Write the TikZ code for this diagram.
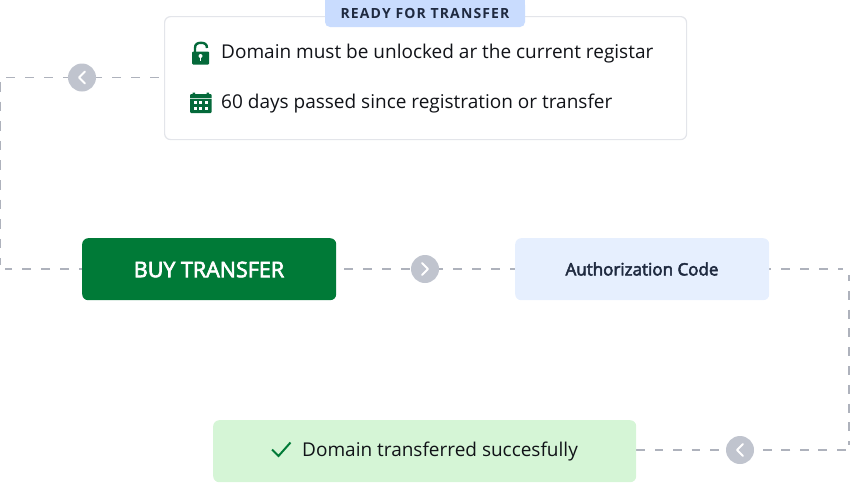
\documentclass[tikz,border=0pt]{standalone}
\usepackage{fontspec}
\usetikzlibrary{backgrounds}
\setmainfont{Open Sans}
\newfontfamily\semib[FakeBold=3]{Open Sans}
\definecolor{dgreen}{HTML}{007A37}
\definecolor{icong}{HTML}{04693A}
\definecolor{lblue}{HTML}{E6EFFE}
\definecolor{tagblue}{HTML}{C9DCFE}
\definecolor{lgreen}{HTML}{D5F5D6}
\definecolor{cardline}{HTML}{E3E5EA}
\definecolor{dashc}{HTML}{AEB2BC}
\definecolor{circ}{HTML}{C0C4CE}
\definecolor{inkc}{HTML}{111318}
\definecolor{navy}{HTML}{1F2A40}
\tikzset{
  flow/.style={draw=dashc,line width=1.2pt,dash pattern=on 9pt off 10pt},
  badge/.style={circle,fill=circ,minimum size=28pt,inner sep=0pt},
  chev/.style={draw=white,line width=2pt,line cap=round,line join=round},
  txt/.style={anchor=base west,inner sep=0pt,text=inkc,font=\fontsize{19}{22}\selectfont},
  box/.style={rounded corners=6pt,inner sep=0pt,anchor=north west}
}
\begin{document}
\begin{tikzpicture}[x=1pt,y=-1pt]
\useasboundingbox (0,0) rectangle (850,482);
% cards
\node[box,draw=cardline,line width=1.2pt,fill=white,minimum width=522pt,minimum height=123pt] (card) at (164,16) {};
\fill[tagblue] (325,-3) rectangle (525,8);
\node[rounded corners=5pt,fill=tagblue,inner sep=0pt,minimum width=200pt,minimum height=27pt,text=navy,font=\fontsize{14}{16}\selectfont\bfseries] (tag) at (425,13.5) {\addfontfeature{LetterSpace=8}READY FOR TRANSFER};
\node[box,fill=dgreen,minimum width=254pt,minimum height=62pt] (buy) at (82,238) {};
\node[text=white,font=\fontsize{21.5}{24}\semib,inner sep=0pt] at (209,269.5) {BUY TRANSFER};
\node[box,fill=lblue,minimum width=254pt,minimum height=62pt] (auth) at (515,238) {};
\node[text=navy,font=\fontsize{17}{20}\semib,inner sep=0pt] at (642,269) {Authorization Code};
\node[box,fill=lgreen,minimum width=423pt,minimum height=62pt] (done) at (213,420) {};
% card texts
\node[txt] (t1) at (221,58.5) {Domain must be unlocked ar the current registar};
\node[txt] (t2) at (221,108) {60 days passed since registration or transfer};
\node[txt] (t3) at (302,456) {Domain transferred succesfully};
% badges
\node[badge] (b1) at (82,77.5) {};
\node[badge] (b2) at (425,269) {};
\node[badge] (b3) at (740,450) {};
\draw[chev] (85,71.5) -- (79,77.5) -- (85,83.5);
\draw[chev] (422,263) -- (428,269) -- (422,275);
\draw[chev] (743,444) -- (737,450) -- (743,456);
% connectors
\coordinate (c1) at (1,77.5);
\coordinate (c2) at (1,269);
\coordinate (c3) at (849,269);
\coordinate (c4) at (849,450);
\coordinate (s1) at (159,77.5);
\coordinate (s2) at (344,269);
\coordinate (s3) at (845.5,450);
\begin{scope}[on background layer]
\draw[flow] (s1) -- (b1);
\draw[flow,dash phase=4pt] (b1) -- (5,77.5);
\draw[flow,dash pattern=on 9.5pt off 10.1pt] (0.6,82) -- (0.6,265);
\draw[flow,dash phase=6pt] (buy.west |- c2) -- (5,269);
\draw[flow] (s2) -- (b2);
\draw[flow,dash phase=5pt] (b2) -- (auth.west |- b2);
\draw[flow,dash phase=7pt] (auth.east |- c3) -- (843,269);
\draw[flow,dash pattern=on 9pt off 9.8pt,dash phase=3pt] (849,275) -- (849,445);
\draw[flow,dash pattern=on 9pt off 9.4pt] (s3) -- (b3);
\draw[flow,dash pattern=on 8.5pt off 9.9pt] (done.east |- b3) -- (b3);
\end{scope}
% lock icon
\fill[icong,rounded corners=1pt] (192,51.5) rectangle (209,64.5);
\draw[icong,line width=2.4pt] (195,52) -- (195,48) .. controls (195,44) and (197.6,42.8) .. (201,42.8) .. controls (204.4,42.8) and (207,44) .. (207,48);
\fill[white] (200.5,56) circle (2);
\fill[white] (199.6,56) rectangle (201.4,60.5);
% calendar icon
\fill[icong,rounded corners=1pt] (190,94) rectangle (211.7,113);
\fill[icong] (192.5,92.5) rectangle (195,96) (206.5,92.5) rectangle (209,96);
\fill[white,opacity=.75] (190,97.6) rectangle (211.7,99);
\foreach \x in {194,199.3,204.5}{
  \fill[white] (\x,101.4) rectangle ++(3,2.7);
  \fill[white] (\x,107) rectangle ++(3,2.7);
}
% check
\draw[dgreen,line width=2pt] (272,449.5) -- (278.5,456) -- (290.5,442.5);
\end{tikzpicture}
\end{document}
